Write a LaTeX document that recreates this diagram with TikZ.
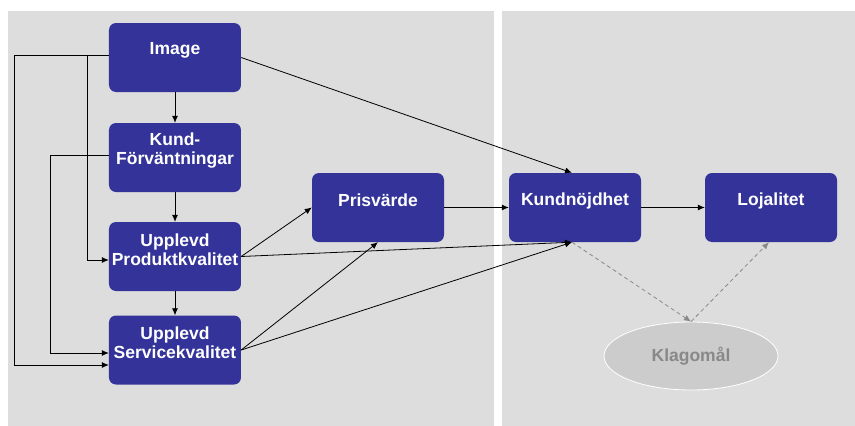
\documentclass[tikz,border=0pt]{standalone}
\usepackage{fontspec}
\setmainfont{Liberation Sans}
\usepackage{xcolor}
\usepackage{tikz}
\usetikzlibrary{shapes.geometric, arrows.meta}
\definecolor{boxblue}{HTML}{333399}
\definecolor{panelgray}{HTML}{DDDDDD}
\definecolor{ovalgray}{HTML}{CCCCCC}
\definecolor{dashgray}{HTML}{888888}
\tikzstyle{box} = [rectangle, rounded corners=7pt, minimum width=132pt, minimum height=69pt, fill=boxblue, draw=none]
\tikzstyle{boxtext} = [text=white, font=\bfseries\fontsize{17.5}{19}\selectfont, align=center, inner sep=0pt, yshift=7pt]
\tikzstyle{klagomal} = [ellipse, minimum width=174pt, minimum height=68pt, fill=ovalgray, draw=white, line width=0.8pt, text=dashgray, font=\bfseries\fontsize{17.5}{19}\selectfont]
\tikzstyle{arrow} = [line width=0.8pt, -{Latex[length=7pt,width=6pt]}]
\tikzstyle{dasharrow} = [line width=0.8pt, dashgray, dash pattern=on 4pt off 3pt, -{Latex[length=7pt,width=6pt]}]

\begin{document}
\begin{tikzpicture}[node distance=100pt, x=1pt, y=1pt]
% canvas and the two panels
\useasboundingbox (-175,57.5) rectangle (680,-368.5);
\fill [white] (-175,57.5) rectangle (680,-368.5);
\fill [panelgray] (-167,46.5) rectangle (319,-368.5);
\fill [panelgray] (327,46.5) rectangle (680,-368.5);

\node (image) [box, label={[boxtext]center:Image}] {};
\node (kund) [box, below of=image, label={[boxtext]center:{Kund-\\Förväntningar}}] {};
\node (produkt) [box, below of=kund, yshift=1pt, label={[boxtext]center:{Upplevd\\Produktkvalitet}}] {};
\node (service) [box, below of=produkt, yshift=6.5pt, label={[boxtext]center:{Upplevd\\Servicekvalitet}}] {};

\node (pris) [box, right of=kund, xshift=103pt, yshift=-50pt, label={[boxtext]center:Prisvärde}] {};
\node (nojd) [box, right of=pris, xshift=97pt, label={[boxtext]center:Kundnöjdhet}] {};
\node (lojal) [box, right of=nojd, xshift=96pt, label={[boxtext]center:Lojalitet}] {};
\node (klago) [klagomal, below of=lojal, xshift=-80pt, yshift=-48.5pt] {Klagomål};

\draw [arrow] (image) -- (kund);
\draw [arrow] (kund) -- (produkt);
\draw [arrow] (produkt) -- (service);

\draw [arrow] ([yshift=2.5pt]image.west) -- ++(-94,0) |- ([yshift=-15pt]service.west);
\draw [arrow] ([yshift=2.5pt]image.west) -- ++(-21,0) |- ([yshift=-3.5pt]produkt.west);
\draw [arrow] ([yshift=2.5pt]kund.west) -- ++(-58,0) |- ([yshift=-3pt]service.west);

\draw [arrow] (image.east) -- ([xshift=-3pt]nojd.north);
\draw [arrow] (produkt.east) -- (pris.west);
\draw [arrow] (produkt.east) -- ([xshift=-3pt]nojd.south);
\draw [arrow] (service.east) -- (pris.south);
\draw [arrow] (service.east) -- ([xshift=-3pt]nojd.south);
\draw [arrow] (pris) -- (nojd);
\draw [arrow] (nojd) -- (lojal);

\draw [dasharrow] ([xshift=-3pt]nojd.south) -- (klago.north);
\draw [dasharrow] (klago.north) -- ([xshift=-2pt]lojal.south);

\end{tikzpicture}
\end{document}
